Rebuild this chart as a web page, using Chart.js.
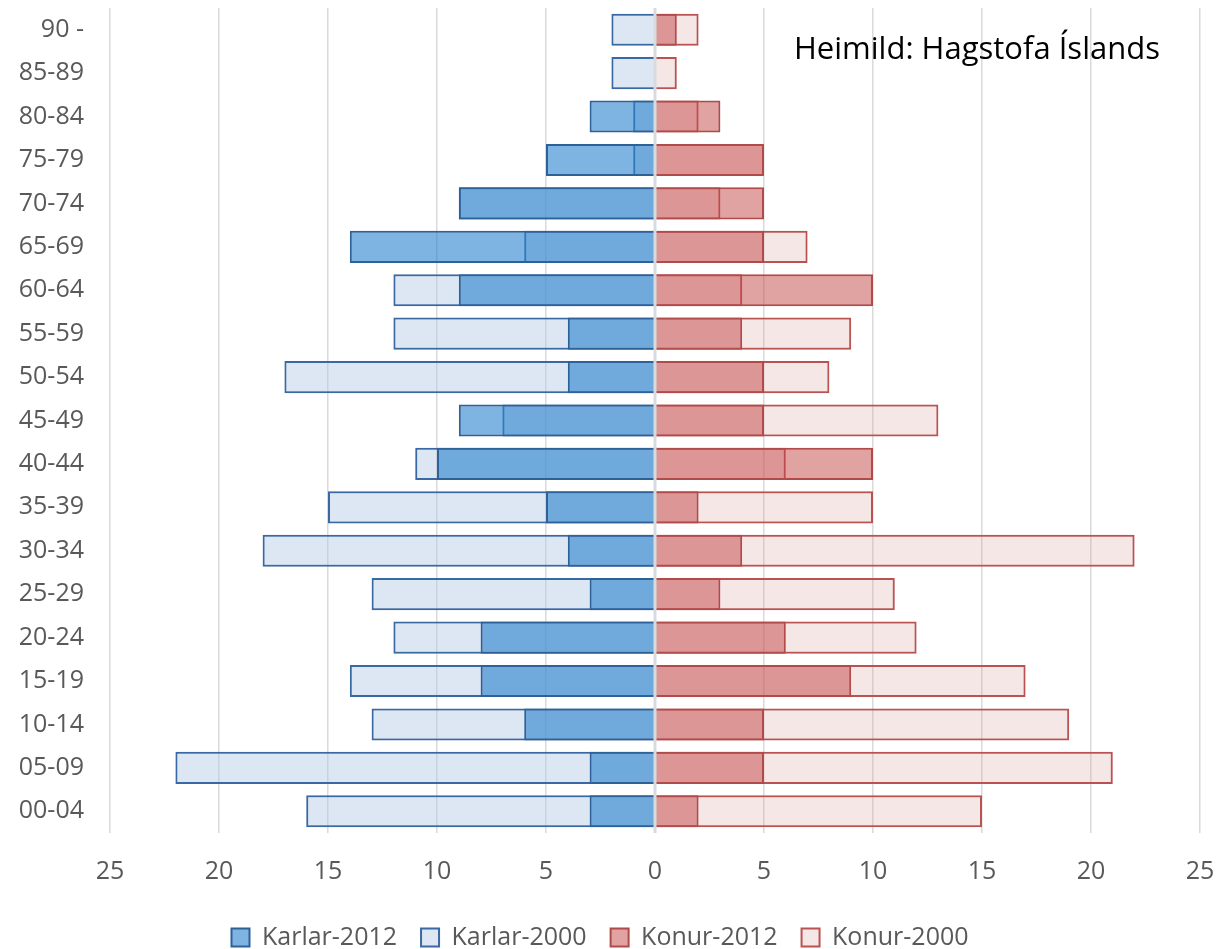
<!DOCTYPE html>
<html lang="is">
<head>
    <meta charset="UTF-8">
    <title>Mannfjöldapíramídi</title>
    <script src="https://cdn.jsdelivr.net/npm/chart.js"></script>
    <style>
        body { margin: 0; background: #fff; }
        #wrap { position: relative; width: 1220px; height: 949px; }
        #source {
            position: absolute; left: 794px; top: 27px;
            font-family: "Open Sans", sans-serif; font-size: 31px; color: #000;
            line-height: 40px;
        }
    </style>
</head>
<body>
<div id="wrap">
    <canvas id="pyramid" width="1220" height="949"></canvas>
    <div id="source">Heimild: Hagstofa Íslands</div>
</div>
<script>
    // aldurshópar, neðst til efst
    const ages = ['00-04', '05-09', '10-14', '15-19', '20-24', '25-29', '30-34', '35-39', '40-44',
        '45-49', '50-54', '55-59', '60-64', '65-69', '70-74', '75-79', '80-84', '85-89', '90 -'];

    const karlar2012 = [3, 3, 6, 8, 8, 3, 4, 5, 10, 9, 4, 4, 9, 14, 9, 5, 3, 0, 0];
    const karlar2000 = [16, 22, 13, 14, 12, 13, 18, 15, 11, 7, 17, 12, 12, 6, 9, 1, 1, 2, 2];
    const konur2012 = [2, 5, 5, 9, 6, 3, 4, 2, 10, 5, 5, 4, 10, 5, 5, 5, 3, 0, 1];
    const konur2000 = [15, 21, 19, 17, 12, 11, 22, 10, 6, 13, 8, 9, 4, 7, 3, 5, 2, 1, 2];

    const xTicks = [-25, -20, -15, -10, -5, 0, 5, 10, 15, 20, 25];

    const font = { family: '"Open Sans", sans-serif', size: 25 };

    // ljós lína við núll, teiknuð ofan á súlurnar
    const zeroLine = {
        id: 'zeroLine',
        afterDatasetsDraw(chart) {
            const x = chart.scales.x.getPixelForValue(0);
            const area = chart.chartArea;
            const ctx = chart.ctx;
            ctx.save();
            ctx.strokeStyle = '#d7dbe0';
            ctx.lineWidth = 3;
            ctx.beginPath();
            ctx.moveTo(x, area.top);
            ctx.lineTo(x, area.bottom);
            ctx.stroke();
            ctx.restore();
        }
    };

    const bar = {
        grouped: false,
        barPercentage: 0.74,
        categoryPercentage: 1,
        borderWidth: 2
    };

    new Chart(document.getElementById('pyramid'), {
        type: 'bar',
        data: {
            labels: ages,
            datasets: [
                Object.assign({
                    label: 'Karlar-2012',
                    data: karlar2012.map(v => -v),
                    backgroundColor: 'rgba(40,130,205,0.6)',
                    borderColor: '#2f6199'
                }, bar),
                Object.assign({
                    label: 'Karlar-2000',
                    data: karlar2000.map(v => -v),
                    backgroundColor: 'rgba(180,200,228,0.45)',
                    borderColor: '#3a68a3'
                }, bar),
                Object.assign({
                    label: 'Konur-2012',
                    data: konur2012,
                    backgroundColor: 'rgba(195,70,70,0.5)',
                    borderColor: '#b24a4a'
                }, bar),
                Object.assign({
                    label: 'Konur-2000',
                    data: konur2000,
                    backgroundColor: 'rgba(220,160,160,0.25)',
                    borderColor: '#bb5252'
                }, bar)
            ]
        },
        options: {
            indexAxis: 'y',
            responsive: false,
            animation: false,
            layout: { padding: { left: 0, right: 20, top: 8, bottom: -11 } },
            scales: {
                x: {
                    min: -25,
                    max: 25,
                    afterBuildTicks: scale => { scale.ticks = xTicks.map(v => ({ value: v })); },
                    grid: { color: '#dadada', lineWidth: 1.5, drawTicks: false },
                    border: { display: false },
                    ticks: {
                        color: '#595959',
                        font: font,
                        padding: 24,
                        maxRotation: 0,
                        callback: v => Math.abs(v)
                    },
                    afterFit: scale => {
                        scale.height = 68;
                        scale.paddingLeft = 0;
                        scale.paddingRight = 0;
                    }
                },
                y: {
                    reverse: true,
                    grid: { display: false, drawTicks: false },
                    border: { display: false },
                    ticks: { color: '#595959', font: font, padding: 26 },
                    afterFit: scale => {
                        scale.width = 110;
                        scale.paddingTop = 0;
                        scale.paddingBottom = 0;
                    }
                }
            },
            plugins: {
                legend: {
                    position: 'bottom',
                    labels: {
                        color: '#595959',
                        font: font,
                        boxWidth: 18,
                        boxHeight: 18,
                        padding: 24
                    }
                },
                tooltip: { enabled: false }
            }
        },
        plugins: [zeroLine]
    });
</script>
</body>
</html>
